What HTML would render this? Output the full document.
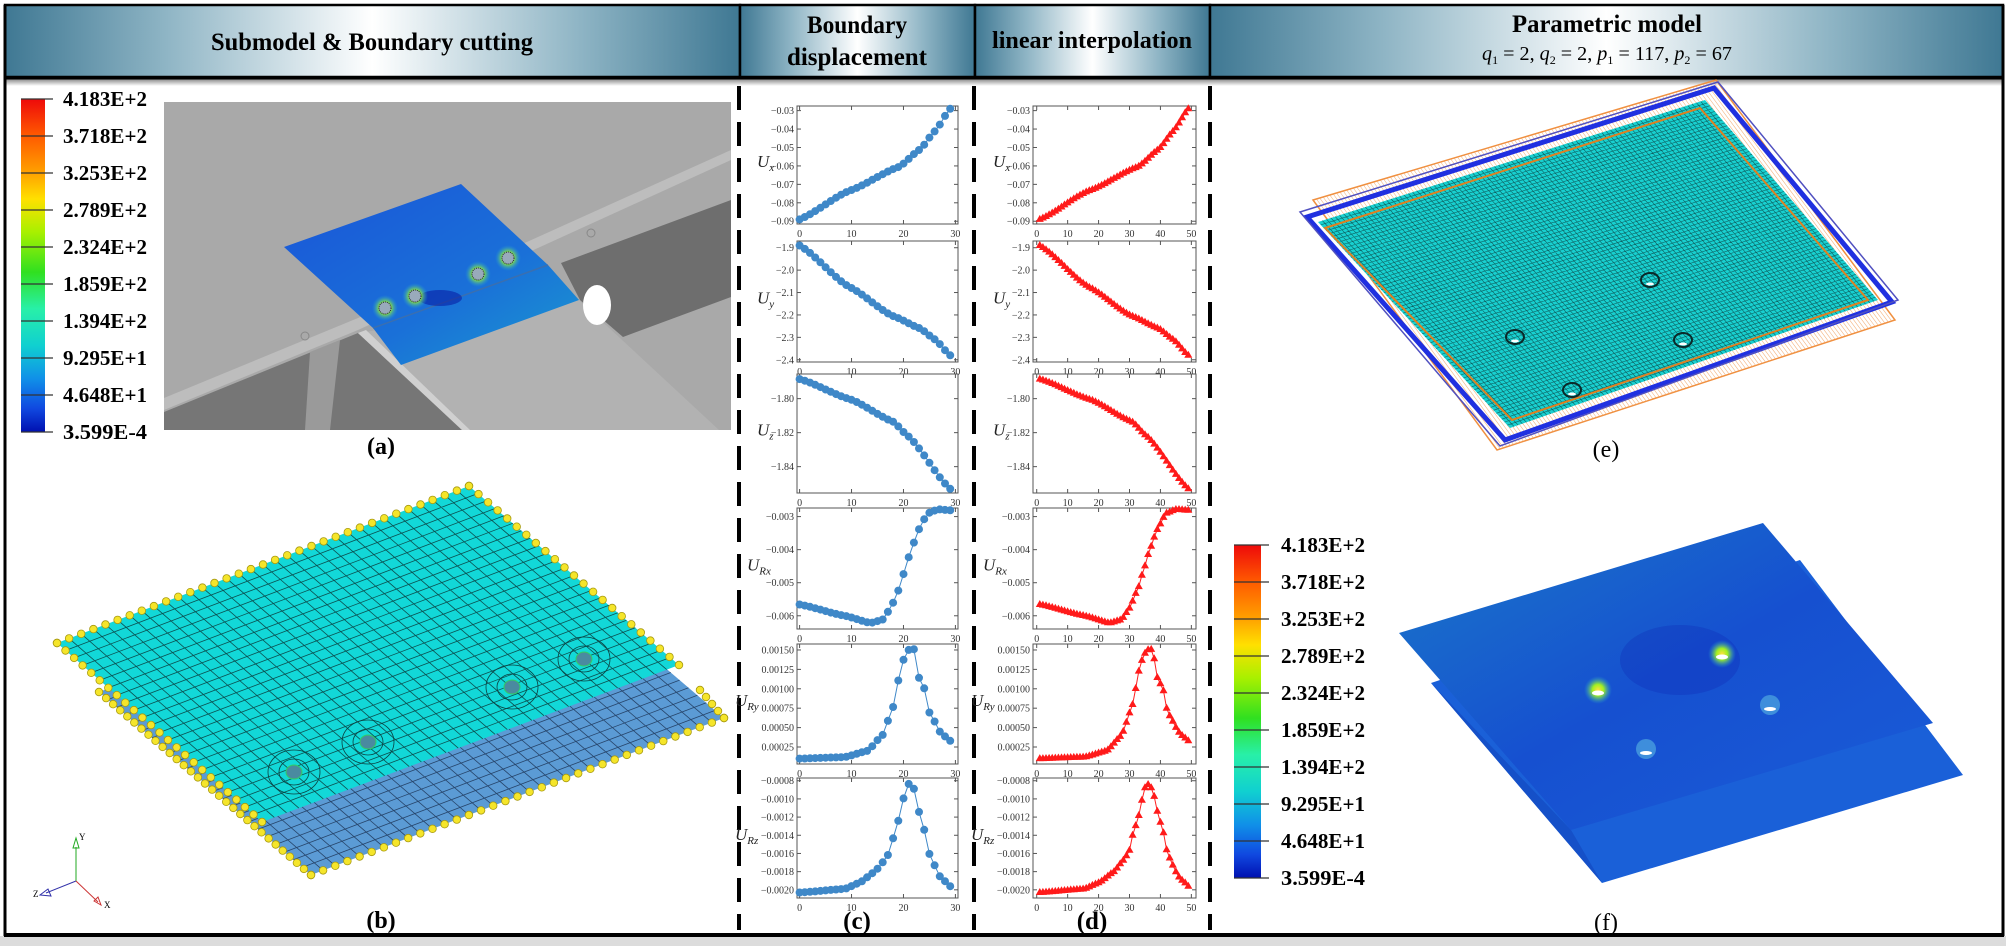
<!DOCTYPE html>
<html><head><meta charset="utf-8"><style>
html,body{margin:0;padding:0;background:#fff;}
svg{display:block;}
text{font-family:"Liberation Serif",serif;}
</style></head><body>
<svg id="s" width="2006" height="946" viewBox="0 0 2006 946" xmlns="http://www.w3.org/2000/svg">
<defs>
<linearGradient id="hdr" x1="0" y1="0" x2="1" y2="0">
<stop offset="0" stop-color="#3f7893"/><stop offset="0.22" stop-color="#8fb5c5"/><stop offset="0.5" stop-color="#ffffff"/><stop offset="0.78" stop-color="#8fb5c5"/><stop offset="1" stop-color="#3f7893"/>
</linearGradient>
<linearGradient id="shadow" x1="0" y1="0" x2="0" y2="1"><stop offset="0" stop-color="#888"/><stop offset="1" stop-color="#fff"/></linearGradient>
<linearGradient id="jet" x1="0" y1="0" x2="0" y2="1">
<stop offset="0" stop-color="#ee0a0a"/><stop offset="0.11" stop-color="#ff5a00"/><stop offset="0.22" stop-color="#ffa000"/><stop offset="0.3" stop-color="#ffe000"/><stop offset="0.4" stop-color="#a8f000"/><stop offset="0.52" stop-color="#30e020"/><stop offset="0.63" stop-color="#28f0a8"/><stop offset="0.74" stop-color="#10d0d0"/><stop offset="0.84" stop-color="#1090e8"/><stop offset="0.93" stop-color="#1048e0"/><stop offset="1" stop-color="#0010b0"/>
</linearGradient>
<linearGradient id="bluea" x1="0" y1="0" x2="1" y2="1"><stop offset="0" stop-color="#1a55d8"/><stop offset="0.6" stop-color="#1a70d8"/><stop offset="1" stop-color="#1a9ad0"/></linearGradient>
<linearGradient id="bluef" x1="0" y1="0" x2="1" y2="1"><stop offset="0" stop-color="#1a78c8"/><stop offset="0.5" stop-color="#1650d0"/><stop offset="1" stop-color="#1a5cd8"/></linearGradient>
<radialGradient id="hot"><stop offset="0" stop-color="#ffe040"/><stop offset="0.4" stop-color="#a0f020"/><stop offset="1" stop-color="#20a0e0" stop-opacity="0"/></radialGradient>
</defs>
<g id="g"></g>
</svg>
<script>
var S='';
function add(s){S+=s;}
function L(a,b,t){return [a[0]+(b[0]-a[0])*t,a[1]+(b[1]-a[1])*t];}
function P(q,u,v){return L(L(q[0],q[1],u),L(q[3],q[2],u),v);}
function poly(pts,attr){return '<polygon points="'+pts.map(function(p){return p[0].toFixed(1)+','+p[1].toFixed(1)}).join(' ')+'" '+attr+'/>';}
function grid(q,nu,nv,st,w,op){var d='';for(var i=1;i<nu;i++){var a=P(q,i/nu,0),b=P(q,i/nu,1);d+='M'+a[0].toFixed(1)+' '+a[1].toFixed(1)+'L'+b[0].toFixed(1)+' '+b[1].toFixed(1);}
for(var j=1;j<nv;j++){var a=P(q,0,j/nv),b=P(q,1,j/nv);d+='M'+a[0].toFixed(1)+' '+a[1].toFixed(1)+'L'+b[0].toFixed(1)+' '+b[1].toFixed(1);}
return '<path d="'+d+'" stroke="'+st+'" stroke-width="'+w+'" fill="none" opacity="'+op+'"/>';}

add('<rect x="0" y="936" width="2006" height="10" fill="#dcdcdc"/>');
var cols=[[5,740],[740,975],[975,1210],[1210,2003]];
cols.forEach(function(c){add('<rect x="'+c[0]+'" y="5" width="'+(c[1]-c[0])+'" height="72" fill="url(#hdr)" stroke="#000" stroke-width="2.5"/>');});
add('<rect x="5" y="79" width="1998" height="7" fill="url(#shadow)"/>');
add('<line x1="5" y1="78" x2="2003" y2="78" stroke="#000" stroke-width="3"/>');
add('<text x="372" y="50" font-size="25" font-weight="bold" text-anchor="middle" textLength="322" lengthAdjust="spacingAndGlyphs">Submodel &amp; Boundary cutting</text>');
add('<text x="857" y="33" font-size="25" font-weight="bold" text-anchor="middle" textLength="100" lengthAdjust="spacingAndGlyphs">Boundary</text>');
add('<text x="857" y="65" font-size="25" font-weight="bold" text-anchor="middle" textLength="140" lengthAdjust="spacingAndGlyphs">displacement</text>');
add('<text x="1092" y="48" font-size="24" font-weight="bold" text-anchor="middle" textLength="200" lengthAdjust="spacingAndGlyphs">linear interpolation</text>');
add('<text x="1607" y="32" font-size="25" font-weight="bold" text-anchor="middle" textLength="190" lengthAdjust="spacingAndGlyphs">Parametric model</text>');
add('<text x="1607" y="60" font-size="20" text-anchor="middle" textLength="250" lengthAdjust="spacingAndGlyphs"><tspan font-style="italic">q</tspan><tspan font-size="12" dy="4">1</tspan><tspan dy="-4"> = 2, </tspan><tspan font-style="italic">q</tspan><tspan font-size="12" dy="4">2</tspan><tspan dy="-4"> = 2, </tspan><tspan font-style="italic">p</tspan><tspan font-size="12" dy="4">1</tspan><tspan dy="-4"> = 117, </tspan><tspan font-style="italic">p</tspan><tspan font-size="12" dy="4">2</tspan><tspan dy="-4"> = 67</tspan></text>');
add('<line x1="5" y1="5" x2="5" y2="936" stroke="#000" stroke-width="3"/>');
add('<line x1="2003" y1="5" x2="2003" y2="936" stroke="#000" stroke-width="3"/>');
add('<line x1="4" y1="935" x2="2004" y2="935" stroke="#000" stroke-width="4"/>');
[739,974,1210].forEach(function(x){add('<line x1="'+x+'" y1="86" x2="'+x+'" y2="930" stroke="#000" stroke-width="4" stroke-dasharray="24 12"/>');});

var labs=['4.183E+2','3.718E+2','3.253E+2','2.789E+2','2.324E+2','1.859E+2','1.394E+2','9.295E+1','4.648E+1','3.599E-4'];
function cbar(x,y0,w,h,lx){add('<rect x="'+x+'" y="'+y0+'" width="'+w+'" height="'+h+'" fill="url(#jet)"/>');
for(var i=0;i<10;i++){var y=y0+h*i/9;add('<line x1="'+x+'" y1="'+y+'" x2="'+(x+w+8)+'" y2="'+y+'" stroke="#333" stroke-width="1.2"/>');
add('<text x="'+lx+'" y="'+(y+7)+'" font-size="21" font-weight="bold" textLength="84" lengthAdjust="spacingAndGlyphs">'+labs[i]+'</text>');}}
cbar(21,99,24,333,63);
cbar(1234,545,27,333,1281);

// (a)
add('<rect x="164" y="102" width="567" height="328" fill="#a9a9a9"/>');
add(poly([[164,398],[358,318],[731,150],[731,160],[358,330],[164,410]],'fill="#bdbdbd"'));
add(poly([[561,263],[731,200],[731,297],[623,337],[580,300]],'fill="#6e6e6e"'));
add(poly([[164,412],[358,333],[462,430],[164,430]],'fill="#767676"'));
add(poly([[310,352],[340,340],[330,430],[305,430]],'fill="#9a9a9a"'));
add(poly([[358,333],[579,300],[719,430],[467,430]],'fill="#b2b2b2"'));
add(poly([[358,333],[366,330],[470,430],[462,430]],'fill="#d0d0d0"'));
add('<ellipse cx="597" cy="305" rx="14" ry="20" fill="#fff"/>');
add(poly([[284,247],[461,184],[548,265],[579,300],[401,365],[373,328]],'fill="url(#bluea)"'));
add('<path d="M373,328 L548,265" stroke="#3a6fb0" stroke-width="1.5"/>');
add('<ellipse cx="440" cy="298" rx="22" ry="8" fill="#0818a0" opacity="0.55"/>');
[[385,308],[415,296],[478,274],[508,258]].forEach(function(p){add('<circle cx="'+p[0]+'" cy="'+p[1]+'" r="13" fill="url(#hot)"/><circle cx="'+p[0]+'" cy="'+p[1]+'" r="6" fill="#9ab" stroke="#223" stroke-width="1" stroke-dasharray="1 1"/>');});
add('<circle cx="591" cy="233" r="4" fill="none" stroke="#888"/><circle cx="305" cy="336" r="4" fill="none" stroke="#888"/>');
add('<text x="381" y="454" font-size="24" font-weight="bold" text-anchor="middle">(a)</text>');

// (b)
var qb=[[99,692],[511,536],[724,718],[311,875]];
var qt=[[57,643],[469,486],[679,665],[262,822]];
add(poly(qb,'fill="#5b9bd5"'));add(grid(qb,34,24,'#1a3050',0.8,0.8));
add(poly(qt,'fill="#12d8d8"'));add(grid(qt,34,24,'#0a3a3a',0.8,0.85));
[[294,772],[368,742],[512,687],[584,659]].forEach(function(p){var x=p[0],y=p[1];add('<ellipse cx="'+x+'" cy="'+y+'" rx="26" ry="22" fill="none" stroke="#0a4040" stroke-width="0.8"/><ellipse cx="'+x+'" cy="'+y+'" rx="15" ry="13" fill="none" stroke="#0a4040" stroke-width="0.8"/><ellipse cx="'+x+'" cy="'+y+'" rx="8" ry="7" fill="#4a8aa0" stroke="#3c6" stroke-width="1"/>');});
function dots(a,b,n){for(var i=0;i<=n;i++){var p=L(a,b,i/n);add('<circle cx="'+p[0].toFixed(1)+'" cy="'+p[1].toFixed(1)+'" r="3.8" fill="#f5e52a" stroke="#a89a10" stroke-width="0.8"/>');}}
dots(qb[0],qb[3],30);dots(qb[3],qb[2],34);dots([700,690],qb[2],4);
dots(qt[0],qt[1],34);dots(qt[1],qt[2],22);dots(qt[0],qt[3],24);
add('<path d="M76,881 L76,847" stroke="#2a2" stroke-width="1"/><path d="M73,848 L76,838 L79,848Z" fill="none" stroke="#2a2"/>');
add('<path d="M76,881 L46,893" stroke="#33a" stroke-width="1"/><path d="M48,889 L40,895 L51,896Z" fill="none" stroke="#33a"/>');
add('<path d="M76,881 L98,902" stroke="#c33" stroke-width="1"/><path d="M94,901 L101,905 L98,897Z" fill="none" stroke="#c33"/>');
add('<text x="79" y="840" font-size="9" font-family="Liberation Sans">Y</text><text x="33" y="897" font-size="9" font-family="Liberation Sans">Z</text><text x="104" y="908" font-size="9" font-family="Liberation Sans">X</text>');
add('<text x="381" y="928" font-size="24" font-weight="bold" text-anchor="middle">(b)</text>');

// plots
function interp(k,t){for(var i=0;i<k.length-1;i++){if(t<=k[i+1][0]){var a=k[i],b=k[i+1],u=(t-a[0])/(b[0]-a[0]);u=u*u*(3-2*u)*0.3+u*0.7;return a[1]+(b[1]-a[1])*u;}}return k[k.length-1][1];}
var series=[
 {lab:'x',yl:[-0.0915,-0.0275],ticks:[-0.09,-0.08,-0.07,-0.06,-0.05,-0.04,-0.03],dec:2,k:[[0,-0.089],[0.33,-0.0735],[0.66,-0.0605],[0.8,-0.051],[0.9,-0.041],[1,-0.029]]},
 {lab:'y',yl:[-2.41,-1.87],ticks:[-1.9,-2.0,-2.1,-2.2,-2.3,-2.4],dec:1,k:[[0,-1.89],[0.33,-2.075],[0.62,-2.205],[0.8,-2.26],[0.9,-2.31],[1,-2.38]]},
 {lab:'z',yl:[-1.8555,-1.7855],ticks:[-1.80,-1.82,-1.84],dec:2,k:[[0,-1.7885],[0.34,-1.8005],[0.62,-1.8135],[0.72,-1.822],[1,-1.853]]},
 {lab:'Rx',yl:[-0.0064,-0.00274],ticks:[-0.003,-0.004,-0.005,-0.006],dec:3,k:[[0,-0.00566],[0.3,-0.00600],[0.47,-0.00622],[0.55,-0.00612],[0.6,-0.0058],[0.66,-0.0052],[0.7,-0.0046],[0.74,-0.0040],[0.79,-0.0034],[0.85,-0.0029],[0.92,-0.00278],[1,-0.00281]]},
 {lab:'Ry',yl:[0.000031,0.001577],ticks:[0.00025,0.0005,0.00075,0.001,0.00125,0.0015],dec:5,k:[[0,0.0001],[0.3,0.00012],[0.45,0.0002],[0.55,0.0004],[0.62,0.00076],[0.68,0.00134],[0.72,0.0015],[0.76,0.00151],[0.79,0.00115],[0.83,0.00100],[0.86,0.0007],[0.9,0.00057],[0.93,0.00045],[0.97,0.00038],[1,0.00033]]},
 {lab:'Rz',yl:[-0.00209,-0.00077],ticks:[-0.0008,-0.0010,-0.0012,-0.0014,-0.0016,-0.0018,-0.0020],dec:4,k:[[0,-0.00203],[0.3,-0.00199],[0.4,-0.00192],[0.5,-0.0018],[0.55,-0.0017],[0.6,-0.00159],[0.63,-0.00137],[0.67,-0.00117],[0.7,-0.00091],[0.72,-0.00083],[0.76,-0.00089],[0.79,-0.00113],[0.83,-0.00135],[0.86,-0.0016],[0.9,-0.00174],[0.93,-0.00185],[0.97,-0.00191],[1,-0.00196]]}
];
var rows=[[106,224],[241,362],[374,493],[508,629],[644,764],[778,898]];
function fmt(v,d){var s=Math.abs(v).toFixed(d);return (v<0?'\u2212':'')+s;}
function plot(sr,x0,x1,y0,y1,xl,n,xt,red){
 add('<rect x="'+x0+'" y="'+y0+'" width="'+(x1-x0)+'" height="'+(y1-y0)+'" fill="#fff" stroke="#555" stroke-width="1"/>');
 function X(v){return x0+(v-xl[0])/(xl[1]-xl[0])*(x1-x0);}
 function Y(v){return y1-(v-sr.yl[0])/(sr.yl[1]-sr.yl[0])*(y1-y0);}
 xt.forEach(function(v){var x=X(v);add('<line x1="'+x+'" y1="'+y1+'" x2="'+x+'" y2="'+(y1-4)+'" stroke="#555"/><line x1="'+x+'" y1="'+y0+'" x2="'+x+'" y2="'+(y0+4)+'" stroke="#555"/><text x="'+x+'" y="'+(y1+13)+'" font-size="10" fill="#333" text-anchor="middle">'+v+'</text>');});
 sr.ticks.forEach(function(v){var y=Y(v);add('<line x1="'+x0+'" y1="'+y+'" x2="'+(x0+4)+'" y2="'+y+'" stroke="#555"/><line x1="'+x1+'" y1="'+y+'" x2="'+(x1-4)+'" y2="'+y+'" stroke="#555"/><text x="'+(x0-3)+'" y="'+(y+3.5)+'" font-size="10" fill="#333" text-anchor="end">'+fmt(v,sr.dec)+'</text>');});
 var lx=x0-(sr.dec>=4?62:(sr.dec==3?50:40));
 add('<text x="'+lx+'" y="'+((y0+y1)/2+2)+'" font-size="17" font-style="italic" fill="#222">U<tspan font-size="11" dy="4">'+sr.lab+'</tspan></text>');
 var pts=[];for(var i=0;i<n;i++){var xv=(red?1:0)+i*(xl[2])/(n-1);var t=i/(n-1);pts.push([X(xv),Y(interp(sr.k,t))]);}
 var col=red?'#ff2020':'#3f88c8';
 add('<polyline points="'+pts.map(function(p){return p[0].toFixed(1)+','+p[1].toFixed(1)}).join(' ')+'" fill="none" stroke="'+col+'" stroke-width="1"/>');
 pts.forEach(function(p){if(red)add('<path d="M'+p[0].toFixed(1)+' '+(p[1]-4.5).toFixed(1)+'l4 7h-8z" fill="#ff1a1a"/>');else add('<circle cx="'+p[0].toFixed(1)+'" cy="'+p[1].toFixed(1)+'" r="4" fill="#3f88c8"/>');});
}
series.forEach(function(sr,i){
 plot(sr,797,958,rows[i][0],rows[i][1],[-0.5,30.5,29],30,[0,10,20,30],false);
 plot(sr,1033,1196,rows[i][0],rows[i][1],[-1.2,51.5,48],49,[0,10,20,30,40,50],true);
});
add('<text x="857" y="929" font-size="25" font-weight="bold" text-anchor="middle">(c)</text>');
add('<text x="1092" y="929" font-size="25" font-weight="bold" text-anchor="middle">(d)</text>');

// (e)
var qe=[[1307,217],[1714,88],[1892,302],[1505,440]];
var qo=[[1313,200],[1716,80],[1895,320],[1497,450]];
add(poly(qo,'fill="none" stroke="#f09040" stroke-width="1.5"'));
add(grid(qo,120,1,'#f0a060',0.6,0.8));
var qi=[[1318,222],[1705,100],[1878,300],[1510,428]];
add(poly(qi,'fill="#18d0d0"'));
add(grid(qi,90,70,'#0a3030',0.6,0.7));
add(poly([[1325,228],[1700,108],[1868,300],[1512,420]],'fill="none" stroke="#e08020" stroke-width="2"'));
add(poly(qe,'fill="none" stroke="#2030e0" stroke-width="5"'));
add(poly([[1300,212],[1718,82],[1898,300],[1500,446]],'fill="none" stroke="#5050c0" stroke-width="1.5"'));
[[1515,337],[1650,280],[1572,390],[1683,340]].forEach(function(p){add('<ellipse cx="'+p[0]+'" cy="'+p[1]+'" rx="9" ry="7" fill="none" stroke="#0a2a2a" stroke-width="2"/><ellipse cx="'+p[0]+'" cy="'+(p[1]+4)+'" rx="4" ry="1.5" fill="#fff"/>');});
add('<text x="1606" y="457" font-size="24" text-anchor="middle">(e)</text>');

// (f)
add(poly([[1431,683],[1800,560],[1963,775],[1602,883]],'fill="#1a60d8"'));
add(poly([[1431,683],[1571,830],[1602,883]],'fill="#1550c8"'));
add(poly([[1399,633],[1763,523],[1933,723],[1571,830]],'fill="url(#bluef)"'));
add('<ellipse cx="1680" cy="660" rx="60" ry="35" fill="#0a20b0" opacity="0.25"/>');
[[1598,690],[1722,654]].forEach(function(p){add('<circle cx="'+p[0]+'" cy="'+p[1]+'" r="14" fill="url(#hot)"/><ellipse cx="'+p[0]+'" cy="'+(p[1]+3)+'" rx="6" ry="2.5" fill="#fff"/>');});
[[1646,749],[1770,705]].forEach(function(p){add('<circle cx="'+p[0]+'" cy="'+p[1]+'" r="10" fill="#50a8e0" opacity="0.7"/><ellipse cx="'+p[0]+'" cy="'+(p[1]+4)+'" rx="6" ry="2" fill="#fff"/>');});
add('<text x="1606" y="930" font-size="24" text-anchor="middle">(f)</text>');

document.getElementById('g').innerHTML=S;
</script>
</body></html>
